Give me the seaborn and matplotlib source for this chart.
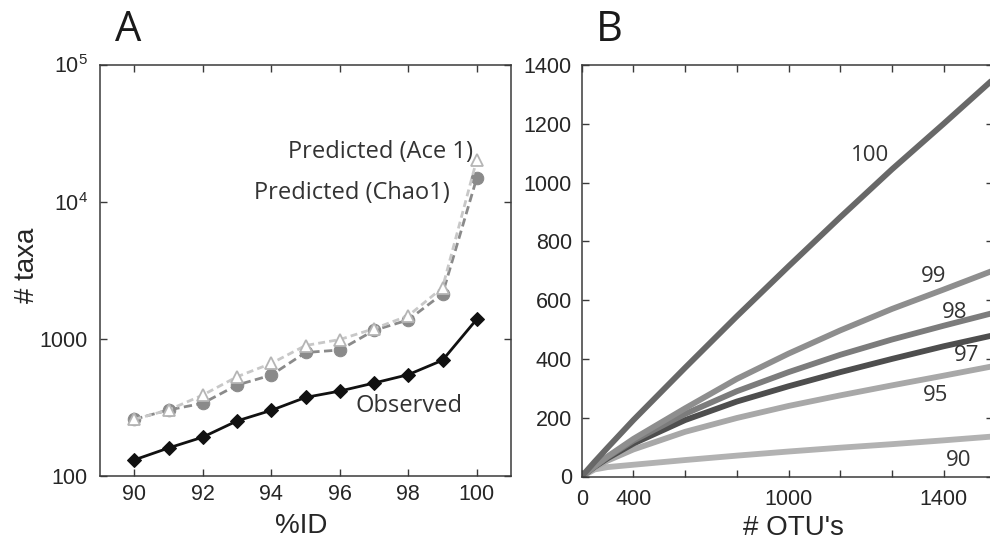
import numpy as np
import pandas as pd
import matplotlib
matplotlib.use("Agg")
import matplotlib.pyplot as plt
import seaborn as sns

# ---------------- data ----------------
pct_id = [90, 91, 92, 93, 94, 95, 96, 97, 98, 99, 100]
observed = [131, 160, 192, 252, 301, 374, 416, 476, 548, 698, 1389]
chao1 = [259, 303, 339, 460, 544, 795, 829, 1152, 1374, 2125, 14860]
ace1 = [259, 303, 389, 529, 662, 894, 988, 1186, 1473, 2360, 20200]

otus = [0, 50, 100, 200, 400, 600, 800, 1000, 1200, 1400, 1590]
curve_100 = [0, 50, 98, 192, 370, 545, 715, 882, 1045, 1200, 1350]
curve_99 = [0, 35, 68, 128, 232, 332, 418, 497, 570, 636, 700]
curve_98 = [0, 34, 66, 122, 213, 290, 355, 414, 466, 513, 556]
curve_97 = [0, 33, 62, 112, 192, 255, 307, 355, 400, 443, 480]
curve_95 = [0, 30, 54, 92, 152, 199, 240, 276, 310, 343, 375]
curve_90 = [0, 24, 32, 40, 56, 71, 85, 98, 110, 123, 136]

a_yticks = [100, 1000, 10000, 100000]
a_yticklabels = ["100", "1000", r"$\mathregular{10^4}$", r"$\mathregular{10^5}$"]
a_xticks = [90, 92, 94, 96, 98, 100]
b_yticks = [0, 200, 400, 600, 800, 1000, 1200, 1400]
b_xticks = [0, 200, 400, 600, 800, 1000, 1200, 1400]
b_xticklabels = ["0", "400", "", "", "1000", "", "", "1400"]

curve_labels = ["90", "95", "97", "98", "99", "100"]
curve_label_pos = {"100": (1115, 1093), "99": (1360, 679), "98": (1444, 559),
                   "97": (1489, 412), "95": (1367, 276), "90": (1457, 54)}
curve_colors = {"90": "#b2b2b2", "95": "#a8a8a8", "97": "#4e4e4e",
                "98": "#7c7c7c", "99": "#8e8e8e", "100": "#686868"}

# ---------------- style ----------------
sns.set_theme(style="ticks")
plt.rcParams["font.family"] = ["Liberation Sans", "DejaVu Sans"]
plt.rcParams["mathtext.fontset"] = "custom"
plt.rcParams["mathtext.rm"] = "Liberation Sans"
plt.rcParams["mathtext.it"] = "Liberation Sans"
plt.rcParams["axes.edgecolor"] = "#3a3a3a"
plt.rcParams["axes.linewidth"] = 1.1

TXT = "#262626"
ANN = ["Open Sans", "DejaVu Sans"]

fig = plt.figure(figsize=(9.9, 5.5), dpi=100)
W, H = 990, 550

def px_axes(l, t, r, b):
    return fig.add_axes([l / W, 1 - b / H, (r - l) / W, (b - t) / H])

axA = px_axes(100, 64.5, 511, 476)
axB = px_axes(581.7, 65, 993, 476.5)

# ---------------- panel A ----------------
sns.lineplot(x=pct_id, y=chao1, ax=axA, color="#8a8a8a", lw=2.0,
             linestyle=(0, (3, 1.6)), marker="o", markersize=9,
             markerfacecolor="#8a8a8a", markeredgecolor="#8a8a8a")
sns.lineplot(x=pct_id, y=ace1, ax=axA, color="#c8c8c8", lw=2.0,
             linestyle=(0, (2.5, 1.5)), marker="^", markersize=9,
             markerfacecolor="white", markeredgecolor="#b5b5b5", markeredgewidth=1.3)
sns.lineplot(x=pct_id, y=observed, ax=axA, color="#111111", lw=2.0,
             marker="D", markersize=7, markerfacecolor="#111111",
             markeredgecolor="#111111")

axA.set_yscale("log")
axA.set_ylim(100, 100000)
axA.set_xlim(89.0, 101.0)
axA.set_yticks(a_yticks)
axA.set_yticklabels(a_yticklabels)
axA.yaxis.set_minor_locator(matplotlib.ticker.NullLocator())
axA.set_xticks(a_xticks)
axA.set_xticklabels([str(v) for v in a_xticks])
axA.tick_params(axis="both", which="both", direction="in", top=True, right=True,
                length=5, width=1, colors="#3a3a3a", labelcolor=TXT, labelsize=15.5)
axA.tick_params(axis="y", pad=9)
axA.tick_params(axis="x", pad=6)
axA.set_xlabel("%ID", fontsize=20, color=TXT, va="center")
axA.set_ylabel("# taxa", fontsize=20, color=TXT, va="center")
axA.xaxis.set_label_coords(0.49, -0.1215)
axA.yaxis.set_label_coords(-0.178, 0.513)

axA.text(0.9075, 0.788, "Predicted (Ace 1)", transform=axA.transAxes, ha="right",
         va="center", fontsize=17, color="#333333", family=ANN)
axA.text(0.8516, 0.688, "Predicted (Chao1)", transform=axA.transAxes, ha="right",
         va="center", fontsize=17, color="#333333", family=ANN)
axA.text(0.883, 0.170, "Observed", transform=axA.transAxes, ha="right",
         va="center", fontsize=17, color="#333333", family=ANN)

# ---------------- panel B ----------------
curves = {"90": curve_90, "95": curve_95, "97": curve_97, "98": curve_98,
          "99": curve_99, "100": curve_100}
frames = []
for lab in curve_labels:
    frames.append(pd.DataFrame({"otus": otus, "value": curves[lab], "pid": lab}))
dfB = pd.concat(frames, ignore_index=True)

sns.lineplot(data=dfB, x="otus", y="value", hue="pid", hue_order=curve_labels,
             palette=curve_colors, lw=4.2, legend=False, estimator=None,
             sort=False, ax=axB, solid_capstyle="round", solid_joinstyle="round")

axB.set_xlim(0, 1591)
axB.set_ylim(0, 1400)
axB.set_yticks(b_yticks)
axB.set_yticklabels([str(v) for v in b_yticks])
axB.set_xticks(b_xticks)
axB.set_xticklabels(b_xticklabels)
axB.tick_params(axis="both", direction="in", top=True, right=True, length=5,
                width=1, colors="#3a3a3a", labelcolor=TXT, labelsize=15.5)
axB.tick_params(axis="y", pad=7)
axB.tick_params(axis="x", pad=9)
axB.set_xlabel("# OTU's", fontsize=20, color=TXT, va="center")
axB.set_ylabel("")
axB.xaxis.set_label_coords(0.514, -0.126)

for lab, (xx, yy) in curve_label_pos.items():
    axB.text(xx, yy, lab, ha="center", va="center", fontsize=16,
             color="#333333", family=ANN)

# panel letters
fig.text(128 / W, 1 - 30 / H, "A", ha="center", va="center", fontsize=30,
         color="#1a1a1a", family=ANN)
fig.text(609 / W, 1 - 30 / H, "B", ha="center", va="center", fontsize=30,
         color="#1a1a1a", family=ANN)

fig.savefig("out.png", dpi=100)
